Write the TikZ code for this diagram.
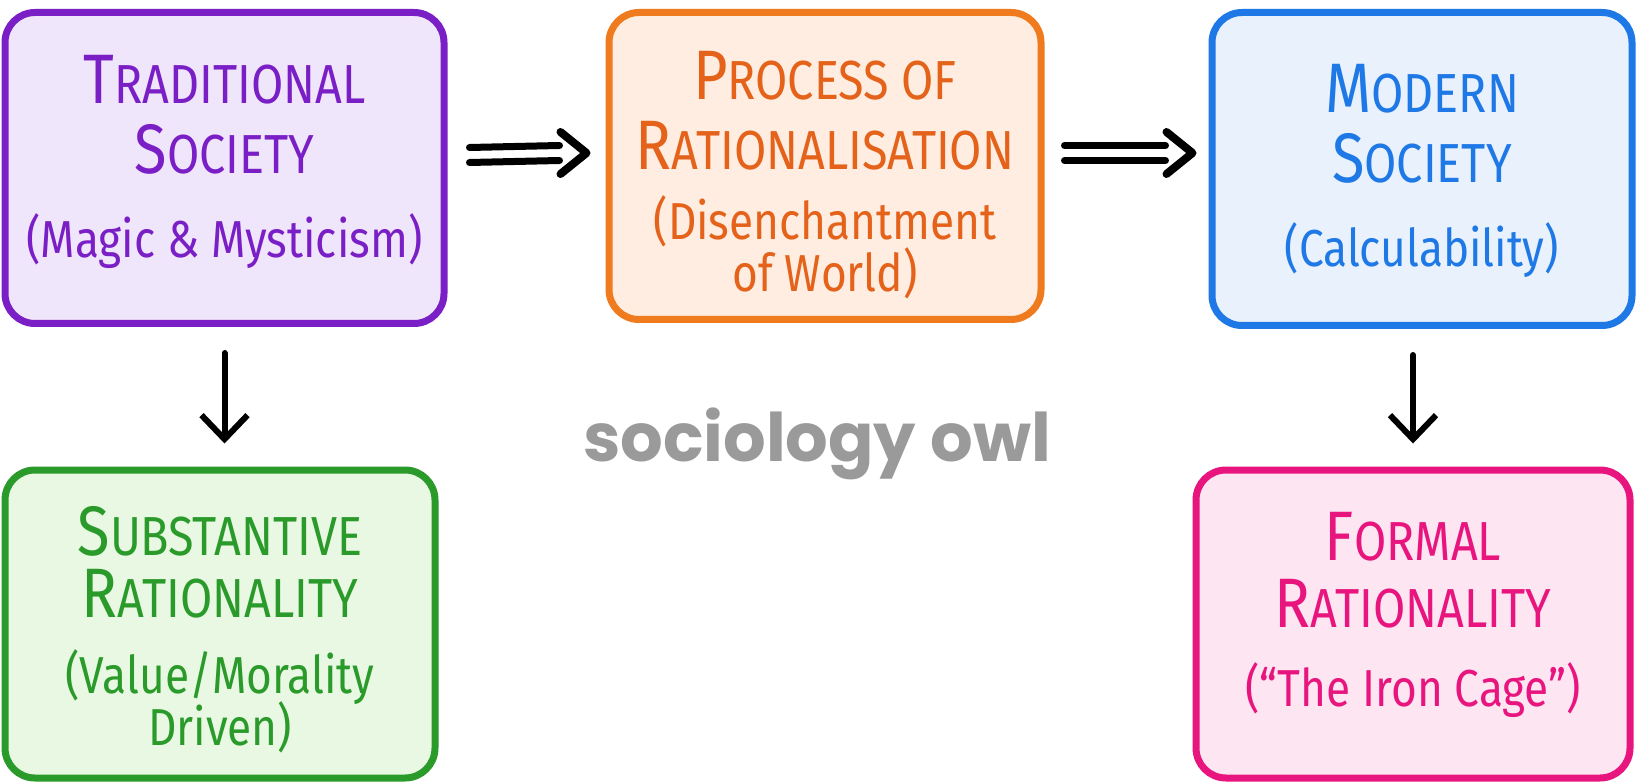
\documentclass[tikz,border=0pt]{standalone}
\usepackage{fontspec}
\setmainfont{Fira Sans}
\newfontfamily\hand[FakeStretch=0.85]{Fira Sans}
\newfontfamily\wmfont{Poppins}
\usetikzlibrary{arrows.meta,calc}
\definecolor{purpleB}{HTML}{7A1FC6}
\definecolor{purpleF}{HTML}{F0E6FB}
\definecolor{orangeB}{HTML}{F07A1E}
\definecolor{orangeT}{HTML}{E4621A}
\definecolor{orangeF}{HTML}{FEEDE0}
\definecolor{blueB}{HTML}{1E78E6}
\definecolor{blueF}{HTML}{E8F1FC}
\definecolor{greenB}{HTML}{2A9A2A}
\definecolor{greenF}{HTML}{E8F8E2}
\definecolor{pinkB}{HTML}{E8157E}
\definecolor{pinkF}{HTML}{FDE6F2}
\definecolor{wmgray}{HTML}{9A9A9A}
\newcommand\SCw[2]{{\fontsize{70}{70}\selectfont #1}{\fontsize{55}{70}\selectfont #2}}
\newcommand\paren[1]{{\fontsize{52}{50}\selectfont #1}}
\tikzset{
  box/.style={draw, rounded corners=30pt, line width=7pt, inner sep=0pt},
  txt/.style={align=center, font=\hand\fontsize{50}{70}\selectfont, inner sep=0pt},
  shaft/.style={draw=black, line width=7pt, line cap=round},
  chev/.style={draw=black, line width=8pt, line cap=round, line join=round},
  downarr/.style={draw=black, line width=6pt, line cap=round,
    -{Straight Barb[length=24pt, width=46pt, line width=6pt]}},
}
\begin{document}
\begin{tikzpicture}[x=1pt, y=-1pt]
\useasboundingbox[fill=white] (0,0) rectangle (1638,783);

% boxes
\node[box, draw=purpleB, fill=purpleF, minimum width=439pt, minimum height=311pt] (trad) at (224.5,168) {};
\node[box, draw=orangeB, fill=orangeF, minimum width=432pt, minimum height=307pt] (proc) at (825,166) {};
\node[box, draw=blueB, fill=blueF, minimum width=420pt, minimum height=313pt] (mod) at (1422,169) {};
\node[box, draw=greenB, fill=greenF, minimum width=430pt, minimum height=308pt] (subst) at (220,624) {};
\node[box, draw=pinkB, fill=pinkF, minimum width=434pt, minimum height=308pt] (form) at (1413,624) {};

% texts
\node[txt, text=purpleB] (tradT) at ($(trad.center)+(0,-6)$)
  {\SCw{T}{RADITIONAL}\\\SCw{S}{OCIETY}\\[14pt]\paren{(Magic \& Mysticism)}};
\node[txt, text=orangeT] (procT) at ($(proc.center)+(0,9)$)
  {\SCw{P}{ROCESS OF}\\\SCw{R}{ATIONALISATION}\\\paren{(Disenchantment}\\[-18pt]\paren{of World)}};
\node[txt, text=blueB] (modT) at ($(mod.center)+(0,2)$)
  {\SCw{M}{ODERN}\\\SCw{S}{OCIETY}\\[14pt]\paren{(Calculability)}};
\node[txt, text=greenB] (substT) at ($(subst.center)+(0,6)$)
  {\SCw{S}{UBSTANTIVE}\\[-8pt]\SCw{R}{ATIONALITY}\\[6pt]\paren{(Value/Morality}\\[-18pt]\paren{Driven)}};
\node[txt, text=pinkB] (formT) at ($(form.center)+(0,-9)$)
  {\SCw{F}{ORMAL}\\[-3pt]\SCw{R}{ATIONALITY}\\[9pt]\paren{(“The Iron Cage”)}};

\node[text=wmgray, font=\wmfont\bfseries\fontsize{67}{67}\selectfont, anchor=base, inner sep=0pt]
  (wm) at (817,461) {sociology owl};

% double arrows
\coordinate (s1) at ([xshift=22pt,yshift=13pt]trad.east);
\coordinate (t1) at ([xshift=-19pt,yshift=13pt]proc.west);
\draw[shaft] ([yshift=7.5pt]s1) -- ([xshift=-27pt,yshift=7.5pt]t1);
\draw[shaft] ([yshift=-7.5pt]s1) -- ([xshift=-27pt,yshift=-7.5pt]t1);
\draw[chev] ([shift={(-26pt,21pt)}]t1) -- (t1) -- ([shift={(-26pt,-21pt)}]t1);

\coordinate (s2) at ([xshift=20pt,yshift=13pt]proc.east);
\coordinate (t2) at ([xshift=-16pt,yshift=16pt]mod.west);
\draw[shaft] ([yshift=7.5pt]s2) -- ([xshift=-27pt,yshift=7.5pt]t2);
\draw[shaft] ([yshift=-7.5pt]s2) -- ([xshift=-27pt,yshift=-7.5pt]t2);
\draw[chev] ([shift={(-26pt,21pt)}]t2) -- (t2) -- ([shift={(-26pt,-21pt)}]t2);

% down arrows
\draw[downarr] ([yshift=-26pt]trad.south) -- ([yshift=23pt]trad.south |- subst.north);
\draw[downarr] ([yshift=-26pt]form.north |- mod.south) -- ([yshift=23pt]form.north);
\end{tikzpicture}
\end{document}
